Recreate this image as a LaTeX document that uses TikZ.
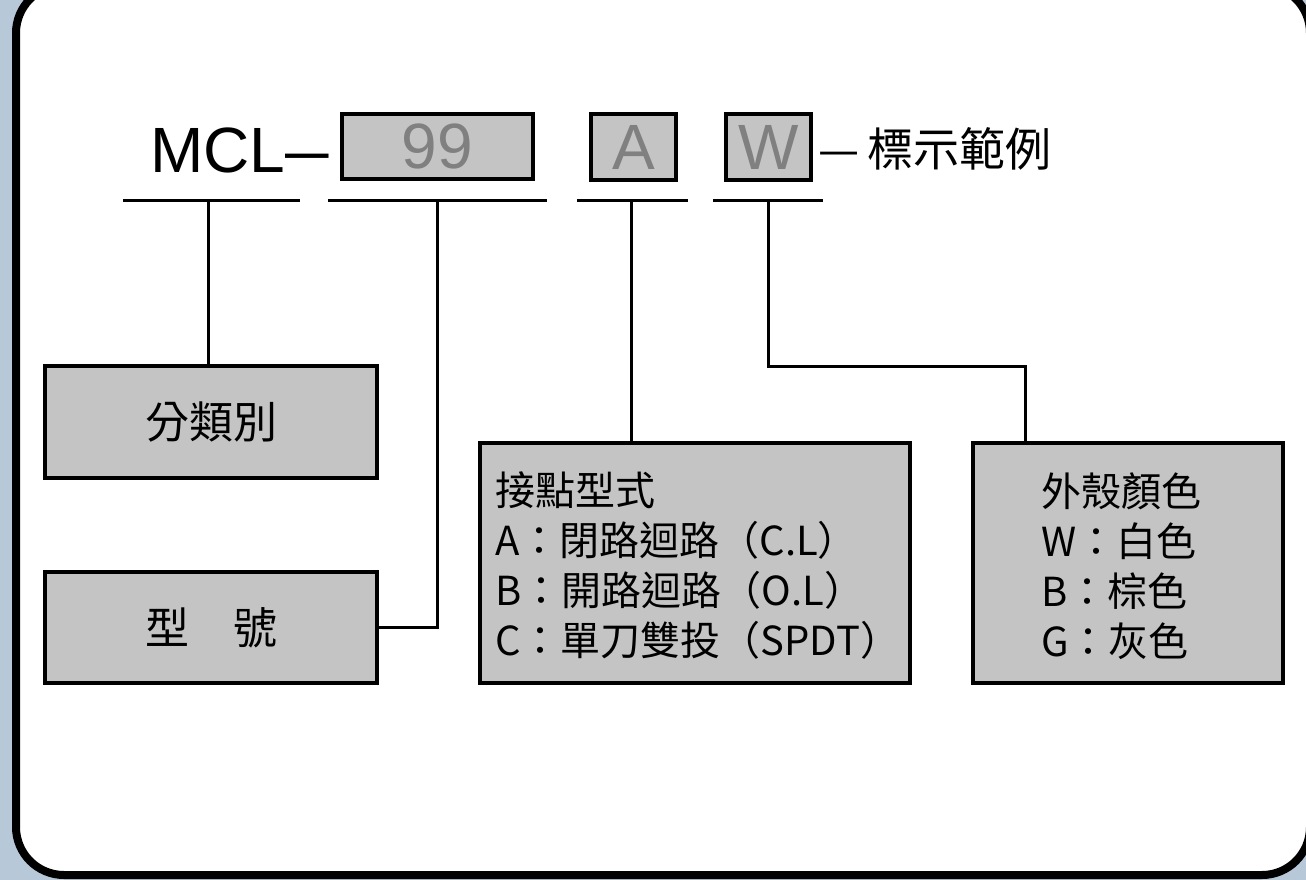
\documentclass[tikz,border=0pt]{standalone}
\usepackage{fontspec}
\usepackage{graphicx}
\setmainfont{Liberation Sans}
\newfontfamily\cjk{Noto Sans CJK TC}
\definecolor{bgblue}{RGB}{183,200,217}
\definecolor{boxgray}{RGB}{196,196,196}
\definecolor{txtgray}{RGB}{128,128,128}
\tikzset{
  codebox/.style={draw=black, line width=3.5pt, fill=boxgray, inner sep=0pt, text=txtgray,
    font=\fontsize{64}{64}\selectfont},
  infobox/.style={draw=black, line width=3.5pt, fill=boxgray, inner sep=0pt},
  conn/.style={line width=3pt, draw=black},
  boxtext/.style={inner sep=0pt, align=left, anchor=west, font=\cjk\fontsize{40}{50}\selectfont}
}
\begin{document}
\begin{tikzpicture}[x=1pt,y=-1pt]
\useasboundingbox (0,0) rectangle (1306,880);
\clip (0,0) rectangle (1306,880);
\fill[bgblue] (0,0) rectangle (1306,880);
\draw[line width=8pt, fill=white, rounded corners=48pt] (16,-15) rectangle (1310,875);

% header
\node[anchor=base west, inner sep=0pt, font=\fontsize{64}{64}\selectfont] (mcl) at (150,172) {MCL\scalebox{0.68}[1]{—}};
\node[codebox, minimum width=191pt, minimum height=65pt] (c99) at (437.5,146.5) {99};
\node[codebox, minimum width=85pt, minimum height=66pt] (cA) at (633.5,147) {A};
\node[codebox, minimum width=85pt, minimum height=66pt] (cW) at (768.5,147) {W};
\node[anchor=base west, inner sep=0pt, font=\cjk\fontsize{46}{46}\selectfont] (ex) at (818,166) {—\kern8pt 標示範例};

% underlines
\coordinate (u1l) at (123,200); \coordinate (u1r) at (300,200); \coordinate (u1) at (208,200);
\coordinate (u2l) at (328,200); \coordinate (u2r) at (547,200); \coordinate (u2) at (437,200);
\coordinate (u3l) at (577,200); \coordinate (u3r) at (688,200); \coordinate (u3) at (631,200);
\coordinate (u4l) at (713,200); \coordinate (u4r) at (823,200); \coordinate (u4) at (768,200);
\draw[conn] (u1l) -- (u1r);
\draw[conn] (u2l) -- (u2r);
\draw[conn] (u3l) -- (u3r);
\draw[conn] (u4l) -- (u4r);

% boxes
\node[infobox, minimum width=332pt, minimum height=112pt, font=\cjk\fontsize{44}{44}\selectfont] (b1) at (211,422) {分類別};
\node[infobox, minimum width=332pt, minimum height=111pt, font=\cjk\fontsize{44}{44}\selectfont] (b2) at (211,627.5) {型　號};
\node[infobox, minimum width=430pt, minimum height=240pt] (b3) at (695,563) {};
\node[infobox, minimum width=310pt, minimum height=240pt] (b4) at (1128,563) {};

\node[boxtext] (t3) at (495,566) {接點型式\\A：閉路迴路（C.L）\\B：開路迴路（O.L）\\C：單刀雙投（SPDT）};
\node[boxtext] (t4) at (1041,566) {外殼顏色\\W：白色\\B：棕色\\G：灰色};

% connectors
\draw[conn] (u1) -- (u1 |- b1.north);
\draw[conn] (u2) |- (b2.east);
\draw[conn] (u3) -- (u3 |- b3.north);
\coordinate (k4) at (1025,366);
\draw[conn] (u4) |- (k4) -- (k4 |- b4.north);
\end{tikzpicture}
\end{document}
